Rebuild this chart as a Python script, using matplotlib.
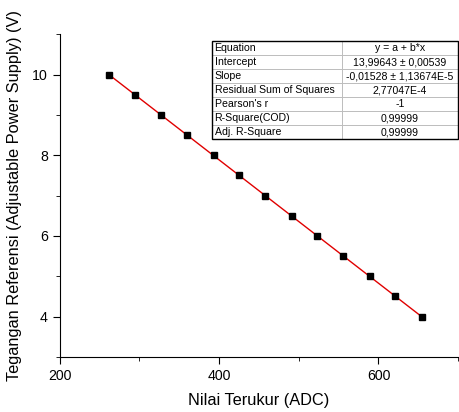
import matplotlib
matplotlib.use("Agg")
import matplotlib.pyplot as plt
from matplotlib.patches import Rectangle
from matplotlib.ticker import MultipleLocator

plt.rcParams["font.family"] = ["Liberation Sans", "DejaVu Sans"]

# measured ADC values vs reference voltage
adc = [262, 294, 327, 360, 393, 425, 458, 491, 523, 556, 589, 621, 654]
volt = [10.0, 9.5, 9.0, 8.5, 8.0, 7.5, 7.0, 6.5, 6.0, 5.5, 5.0, 4.5, 4.0]

# linear fit parameters (from the fit report)
intercept = 13.99643
slope = -0.01528

table_labels = ["Equation", "Intercept", "Slope", "Residual Sum of Squares",
                "Pearson's r", "R-Square(COD)", "Adj. R-Square"]
table_values = ["y = a + b*x", "13,99643 \u00b1 0,00539", "-0,01528 \u00b1 1,13674E-5",
                "2,77047E-4", "-1", "0,99999", "0,99999"]

fig = plt.figure(figsize=(4.6, 4.12), dpi=100)
ax = fig.add_axes([0.130, 0.1335, 0.866, 0.7835])

fit_x = [adc[0], adc[-1]]
fit_y = [intercept + slope * x for x in fit_x]
ax.plot(fit_x, fit_y, color="#e00000", lw=1.0, zorder=2)
ax.plot(adc, volt, ls="none", marker="s", ms=4.2, color="black", zorder=3)

ax.set_xlim(200, 700)
ax.set_ylim(3, 11)
ax.xaxis.set_major_locator(MultipleLocator(200))
ax.xaxis.set_minor_locator(MultipleLocator(100))
ax.yaxis.set_major_locator(MultipleLocator(2))
ax.yaxis.set_minor_locator(MultipleLocator(1))
ax.spines["top"].set_visible(False)
ax.spines["right"].set_visible(False)
ax.tick_params(which="both", direction="out", labelsize=10.2)
ax.tick_params(which="major", length=5)
ax.tick_params(which="minor", length=3)
ax.set_xlabel("Nilai Terukur (ADC)", fontsize=11.8)
ax.set_ylabel("Tegangan Referensi (Adjustable Power Supply) (V)", fontsize=11.8)
ax.xaxis.set_label_coords(0.5, -0.11)
ax.yaxis.set_label_coords(-0.095, 0.5)

tb = [0.382, 0.675, 0.618, 0.303]
tbl = ax.table(cellText=[[a, b] for a, b in zip(table_labels, table_values)],
               colWidths=[0.528, 0.472], cellLoc="center",
               bbox=tb, zorder=5)
tbl.auto_set_font_size(False)
for (r, c), cell in tbl.get_celld().items():
    cell.set_edgecolor("#b8b8b8")
    cell.set_linewidth(0.6)
    cell.set_fontsize(7.6)
    if c == 0:
        cell.set_text_props(ha="left")
        cell.PAD = 0.02
ax.add_patch(Rectangle((tb[0], tb[1]), tb[2], tb[3], transform=ax.transAxes,
                       fill=False, ec="black", lw=1.0, zorder=6, clip_on=False))

fig.savefig("out.png", dpi=100)
